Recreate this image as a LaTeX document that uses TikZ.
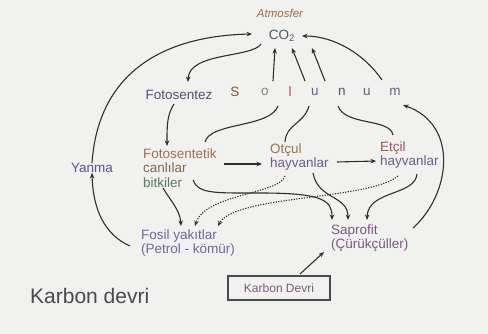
\documentclass[tikz,border=0pt]{standalone}
\usepackage{fontspec}
\setmainfont{Liberation Sans}
\usetikzlibrary{arrows.meta}
\definecolor{paper}{HTML}{F1F1EF}
\definecolor{ink}{HTML}{2F2F2F}
\definecolor{cAtm}{HTML}{9A6B4B}
\definecolor{cGas}{HTML}{55575E}
\definecolor{cFoto}{HTML}{5B4E72}
\definecolor{cOrange}{HTML}{A2714F}
\definecolor{cBrown}{HTML}{7E6A55}
\definecolor{cGreen}{HTML}{5E7A60}
\definecolor{cBlue}{HTML}{55548A}
\definecolor{cPurple}{HTML}{6E5E86}
\definecolor{cRed}{HTML}{A05555}
\definecolor{cFosil}{HTML}{6A6A9C}
\definecolor{cSapro}{HTML}{7A5A80}
\definecolor{cTitle}{HTML}{4A4A4C}
\begin{document}
\begin{tikzpicture}[x=1pt,y=-1pt,
  lbl/.style={inner sep=0pt, font=\fontsize{13.5}{13.5}\selectfont, align=left},
  flow/.style={draw=ink, line width=1.1pt, -{Stealth[length=5.5pt,width=4.5pt]}},
  link/.style={draw=ink, line width=1.1pt},
  dotflow/.style={flow, dash pattern=on 1.2pt off 1.4pt}]

\useasboundingbox (0,0) rectangle (488,334);
\fill[paper] (0,0) rectangle (488,334);

% labels
\node[lbl, font=\itshape\fontsize{11.5}{12}\selectfont, text=cAtm] (atm) at (280,13) {Atmosfer};
\node[lbl, text=cGas] (co2) at (282,36) {CO\textsubscript{2}};
\node[lbl, text=cFoto] (foto) at (179,95) {Fotosentez};
\node[lbl, text=cBlue] (yanma) at (92,168) {Yanma};
\node[lbl, anchor=west, font=\fontsize{13.5}{14.5}\selectfont] (bitki) at (143,168)
  {\textcolor{cOrange}{Fotosentetik}\\\textcolor{cBrown}{canlılar}\\\textcolor{cGreen}{bitkiler}};
\node[lbl, anchor=west] (otcul) at (270,157)
  {\textcolor{cOrange}{Otçul}\\\textcolor{cPurple}{hayvanlar}};
\node[lbl, anchor=west] (etcil) at (380,155)
  {\textcolor{cRed}{Etçil}\\\textcolor{cPurple}{hayvanlar}};
\node[lbl, anchor=west, text=cFosil] (fosil) at (141,243)
  {Fosil yakıtlar\\(Petrol - kömür)};
\node[lbl, anchor=west, text=cSapro] (sapro) at (331,238)
  {Saprofit\\(Çürükçüller)};
\node[lbl, anchor=west, font=\fontsize{21}{21}\selectfont, text=cTitle] (title) at (30,296) {Karbon devri};
\node[lbl, draw=cTitle, line width=1.3pt, minimum width=102pt, minimum height=24pt,
  font=\fontsize{12}{12}\selectfont, text=cSapro] (box) at (279,288) {Karbon Devri};

% respiration, spelled out letter by letter
\node[lbl, text=cAtm!80!black] (s1) at (235,92) {S};
\node[lbl, text=gray] (s2) at (265,92) {o};
\node[lbl, text=cRed] (s3) at (290,92) {l};
\node[lbl, text=cPurple] (s4) at (315,92) {u};
\node[lbl, text=cGas] (s5) at (342,92) {n};
\node[lbl, text=cPurple] (s6) at (367,92) {u};
\node[lbl, text=cPurple] (s7) at (395,92) {m};

% tail and head points of the connectors
\coordinate (r1) at (273,81);  \coordinate (g1) at (275,48);
\coordinate (r2) at (305,81);  \coordinate (g2) at (292,48);
\coordinate (r3) at (325,81);  \coordinate (g3) at (312,48);
\coordinate (mTop) at (382,80); \coordinate (gR) at (302,36);
\coordinate (gL) at (252,34);  \coordinate (gB) at (261,44);
\coordinate (fotIn) at (188,82); \coordinate (fotOut) at (174,104);
\coordinate (bitIn) at (167,146);
\coordinate (mIn) at (403,105); \coordinate (sapR) at (413,228);
\coordinate (bRes) at (205,142); \coordinate (oRes) at (278,106);
\coordinate (otTop) at (285,142); \coordinate (lRes) at (309,106);
\coordinate (nRes) at (338,106); \coordinate (etTop) at (393,135);
\coordinate (bOut) at (224,164); \coordinate (otIn) at (262,164);
\coordinate (otOut) at (337,162); \coordinate (etIn) at (376,161);
\coordinate (bLow) at (163,188); \coordinate (bRight) at (193,180);
\coordinate (otLow) at (285,176); \coordinate (otLowR) at (313,173);
\coordinate (etLow) at (398,176); \coordinate (etLowR) at (417,174);
\coordinate (f1) at (181,226); \coordinate (f2) at (195,226); \coordinate (f3) at (218,226);
\coordinate (p1) at (332,220); \coordinate (p2) at (348,220); \coordinate (p3) at (367,220);
\coordinate (boxOut) at (300,274); \coordinate (pB) at (324,252);
\coordinate (fosL) at (130,246);

% gas exchange with the atmosphere
\draw[flow] (yanma.north) .. controls (98,75) and (160,36) .. (gL);
\draw[flow] (gB) .. controls (252,58) and (189,52) .. (fotIn);
\draw[flow] (r1) -- (g1);
\draw[flow] (r2) -- (g2);
\draw[flow] (r3) -- (g3);
\draw[flow] (mTop) .. controls (365,55) and (335,36) .. (gR);
\draw[flow] (sapR) .. controls (450,195) and (460,125) .. (mIn);

% photosynthesis and combustion
\draw[flow] (fotOut) .. controls (167,115) and (167,125) .. (bitIn);
\draw[flow] (fosL) .. controls (105,235) and (93,210) .. (yanma.south);

% links to respiration
\draw[link] (bRes) .. controls (210,122) and (270,128) .. (oRes);
\draw[link] (otTop) .. controls (286,124) and (304,124) .. (lRes);
\draw[link] (nRes) .. controls (345,126) and (390,118) .. (etTop);

% food chain
\draw[flow] (bOut) -- (otIn);
\draw[flow] (otOut) -- (etIn);

% to fossil fuels
\draw[flow] (bLow) .. controls (170,200) and (180,210) .. (f1);
\draw[dotflow] (otLow) .. controls (280,194) and (205,194) .. (f2);
\draw[dotflow] (etLow) .. controls (370,200) and (235,195) .. (f3);

% to decomposers
\draw[flow] (bRight) .. controls (198,194) and (215,193) .. (260,193)
  .. controls (322,193) and (332,200) .. (p1);
\draw[flow] (otLowR) .. controls (318,200) and (348,195) .. (p2);
\draw[flow] (etLowR) .. controls (415,196) and (368,190) .. (p3);
\draw[flow] (boxOut) -- (pB);
\end{tikzpicture}
\end{document}
